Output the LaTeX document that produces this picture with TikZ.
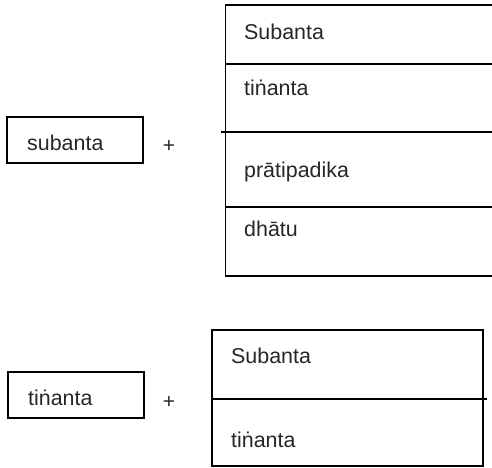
\documentclass[tikz,border=0pt]{standalone}
\usepackage{fontspec}
\setmainfont{Liberation Sans}
\begin{document}
\begin{tikzpicture}[x=1bp,y=-1bp,
  ln/.style={line width=1.5bp},
  bx/.style={draw,line width=1.5bp,rectangle,inner sep=0pt},
  lbl/.style={anchor=west,inner sep=0pt,font=\fontsize{21.5}{24}\selectfont,text=black!85},
  pl/.style={inner sep=0pt,font=\fontsize{21}{24}\selectfont,text=black!85}]
\useasboundingbox (0,0) rectangle (492,468);
% top left box
\node[bx,minimum width=136bp,minimum height=46bp] (sb) at (75,140) {};
\node[lbl] (sbt) at (27,143) {subanta};
\node[pl] (p1) at (169,146) {+};
% top right table
\coordinate (tl) at (225.5,5);
\coordinate (tr) at (492,5);
\coordinate (bl) at (225.5,276);
\coordinate (br) at (492,276);
\draw[ln] (tr) -- (tl) -- (bl) -- (br);
\coordinate (l1a) at (225.5,64); \coordinate (l1b) at (492,64);
\coordinate (l2a) at (221,132); \coordinate (l2b) at (492,132);
\coordinate (l3a) at (225.5,207); \coordinate (l3b) at (492,207);
\draw[ln] (l1a) -- (l1b);
\draw[ln] (l2a) -- (l2b);
\draw[ln] (l3a) -- (l3b);
\node[lbl] (t1) at (244,32) {Subanta};
\node[lbl] (t2) at (244,88) {tiṅanta};
\node[lbl] (t3) at (244,172) {prātipadika};
\node[lbl] (t4) at (244,229) {dhātu};
% bottom left box
\node[bx,minimum width=136bp,minimum height=46bp] (tb) at (76,395) {};
\node[lbl] (tbt) at (28,398) {tiṅanta};
\node[pl] (p2) at (169,402) {+};
% bottom right table
\node[bx,minimum width=271bp,minimum height=136bp] (bt) at (347.5,398) {};
\coordinate (m1) at (212,399); \coordinate (m2) at (487,399);
\draw[ln] (m1) -- (m2);
\node[lbl] (u1) at (231,356) {Subanta};
\node[lbl] (u2) at (231,440) {tiṅanta};
\end{tikzpicture}
\end{document}
